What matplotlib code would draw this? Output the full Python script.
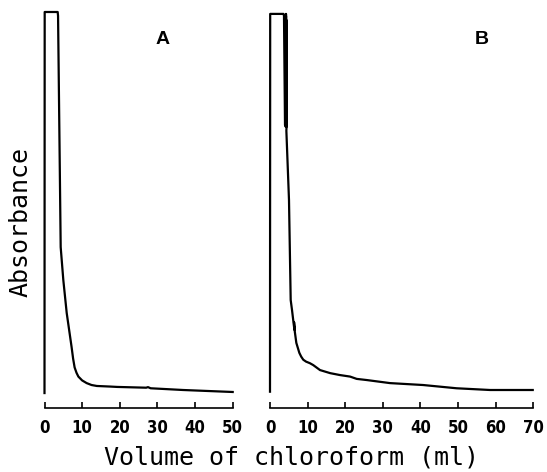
import matplotlib.pyplot as plt

# Chromatogram traces (relative absorbance, 1.0 = recorder full scale)
vol_a = [0, 0.05, 3.5, 3.6, 4.1, 4.3, 5.0, 5.9, 7.2, 7.6, 8.0, 8.5, 9.0, 10.0,
         11.2, 12.5, 13.9, 17.4, 19.3, 27.0, 27.5, 28.2, 36.8, 50.0]
abs_a = [0.005, 1.0, 1.0, 0.99, 0.56, 0.386, 0.30, 0.214, 0.125, 0.095, 0.072,
         0.058, 0.048, 0.038, 0.031, 0.026, 0.0235, 0.022, 0.021, 0.019, 0.0205,
         0.0175, 0.013, 0.0078]

vol_b = [0, 0.05, 3.6, 3.72, 3.99, 4.2, 4.25, 4.3, 4.25, 4.35, 4.3, 4.4, 4.35,
         5.05, 5.5, 5.85, 6.3, 6.5, 6.4, 6.6, 7.0, 7.8, 8.3, 8.85, 9.6, 10.6,
         11.5, 13.3, 16.0, 18.6, 21.3, 23.05, 25.7, 31.9, 40.7, 49.6, 58.5, 69.85]
abs_b = [0.0086, 0.995, 0.995, 0.99, 0.705, 0.70, 0.995, 0.70, 0.99, 0.70, 0.98,
         0.70, 0.69, 0.509, 0.248, 0.222, 0.185, 0.17, 0.19, 0.165, 0.136, 0.110,
         0.100, 0.092, 0.087, 0.083, 0.078, 0.065, 0.057, 0.052, 0.048, 0.042,
         0.039, 0.031, 0.026, 0.0175, 0.013, 0.013]

ticks_a = [0, 10, 20, 30, 40, 50]
ticks_b = [0, 10, 20, 30, 40, 50, 60, 70]

fig = plt.figure(figsize=(5.47, 4.72), dpi=100)

tick_font = {'family': 'DejaVu Sans', 'stretch': 'condensed', 'weight': 'bold', 'size': 12}

def panel(rect, vol, ab, ticks, xmax):
    ax = fig.add_axes(rect)
    ax.plot(vol, ab, color='black', lw=1.6, clip_on=False, solid_joinstyle='round')
    ax.set_xlim(0, xmax)
    ax.set_ylim(-0.034, 1.0)
    for s in ['top', 'right', 'left']:
        ax.spines[s].set_visible(False)
    ax.spines['bottom'].set_linewidth(1.2)
    ax.set_yticks([])
    ax.set_xticks(ticks)
    ax.set_xticklabels([str(t) for t in ticks], fontdict=tick_font)
    ax.tick_params(axis='x', direction='in', length=4, width=1.2, pad=8)
    return ax

panel([44.5 / 547, 0.1356, 188.2 / 547, 0.839], vol_a, abs_a, ticks_a, 50)
panel([270 / 547, 0.1356, 263.3 / 547, 0.839], vol_b, abs_b, ticks_b, 70)

fig.text(163 / 547, 1 - 40 / 472, 'A', ha='center', va='center',
         fontsize=14, fontweight='bold', family='Liberation Sans')
fig.text(482 / 547, 1 - 40 / 472, 'B', ha='center', va='center',
         fontsize=14, fontweight='bold', family='Liberation Sans')

fig.text(292 / 547, (472 - 465) / 472, 'Volume of chloroform (ml)', ha='center',
         va='baseline', fontsize=18, family='DejaVu Sans Mono')
fig.text(21 / 547, 1 - 222 / 472, 'Absorbance', ha='center', va='center',
         rotation=90, fontsize=18, family='DejaVu Sans Mono')

fig.savefig('out.png', dpi=100)
